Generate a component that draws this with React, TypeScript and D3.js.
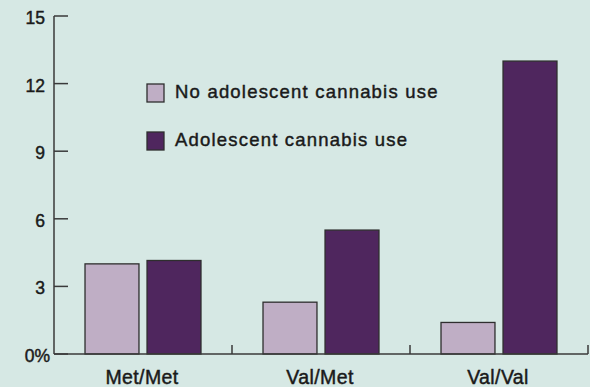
import React from "react";
import * as d3 from "d3";

const categories = ["Met/Met", "Val/Met", "Val/Val"];
const seriesNames = ["No adolescent cannabis use", "Adolescent cannabis use"];
const noUse = [4.0, 2.3, 1.4];
const use = [4.15, 5.5, 13.0];
const yTicks = [0, 3, 6, 9, 12, 15];

const W = 590, H = 387;
const colors = ["#bfaec5", "#4f265e"];
const FONT = "'Liberation Sans', Arial, sans-serif";
const txt = { fill: "#1a1a1a", stroke: "#1a1a1a", strokeWidth: 0.45 };

export default function App() {
  const y = d3.scaleLinear().domain([0, 15]).range([354, 16]);
  const x = d3.scaleBand<string>().domain(categories).range([54, 588]).paddingInner(0).paddingOuter(0);
  const xs = d3.scaleBand<string>().domain(seriesNames).range([0, x.bandwidth()]).paddingInner(0.13).paddingOuter(0.5);
  const values = [noUse, use];
  const axisColor = "#3a3a3a";
  return (
    <svg width={W} height={H} style={{ position: "absolute", left: 0, top: 0 }} fontFamily={FONT}>
      <rect x={0} y={0} width={W} height={H} fill="#d6e8e4" />
      {categories.map((c, i) =>
        seriesNames.map((s, j) => (
          <rect
            key={c + s}
            x={(x(c) as number) + (xs(s) as number)}
            y={y(values[j][i])}
            width={xs.bandwidth()}
            height={y(0) - y(values[j][i])}
            fill={colors[j]}
            stroke="#2e2e2e"
            strokeWidth={1.3}
          />
        ))
      )}
      <line x1={54} x2={54} y1={y(15)} y2={y(0)} stroke={axisColor} strokeWidth={1.5} />
      {yTicks.map((t) => (
        <g key={t}>
          <line x1={54} x2={68} y1={y(t)} y2={y(t)} stroke={axisColor} strokeWidth={1.5} />
          <text x={t === 0 ? 50 : 45} y={y(t) + 8} textAnchor="end" fontSize={17.5} {...txt}>
            {t === 0 ? "0%" : String(t)}
          </text>
        </g>
      ))}
      <line x1={54} x2={588} y1={y(0)} y2={y(0)} stroke={axisColor} strokeWidth={1.5} />
      {categories.map((c) => (
        <g key={c}>
          <line
            x1={(x(c) as number) + x.bandwidth()}
            x2={(x(c) as number) + x.bandwidth()}
            y1={y(0)}
            y2={y(0) - 9}
            stroke={axisColor}
            strokeWidth={1.5}
          />
          <text x={(x(c) as number) + x.bandwidth() / 2 - 1} y={384} textAnchor="middle" fontSize={19.5} letterSpacing={0.4} {...txt}>
            {c}
          </text>
        </g>
      ))}
      {seriesNames.map((s, j) => (
        <g key={s} transform={`translate(147, ${84 + j * 48})`}>
          <rect x={0} y={0} width={17} height={18} fill={colors[j]} stroke="#2e2e2e" strokeWidth={1.3} />
          <text x={28} y={14} fontSize={18.5} letterSpacing={1.2} {...txt}>
            {s}
          </text>
        </g>
      ))}
    </svg>
  );
}
